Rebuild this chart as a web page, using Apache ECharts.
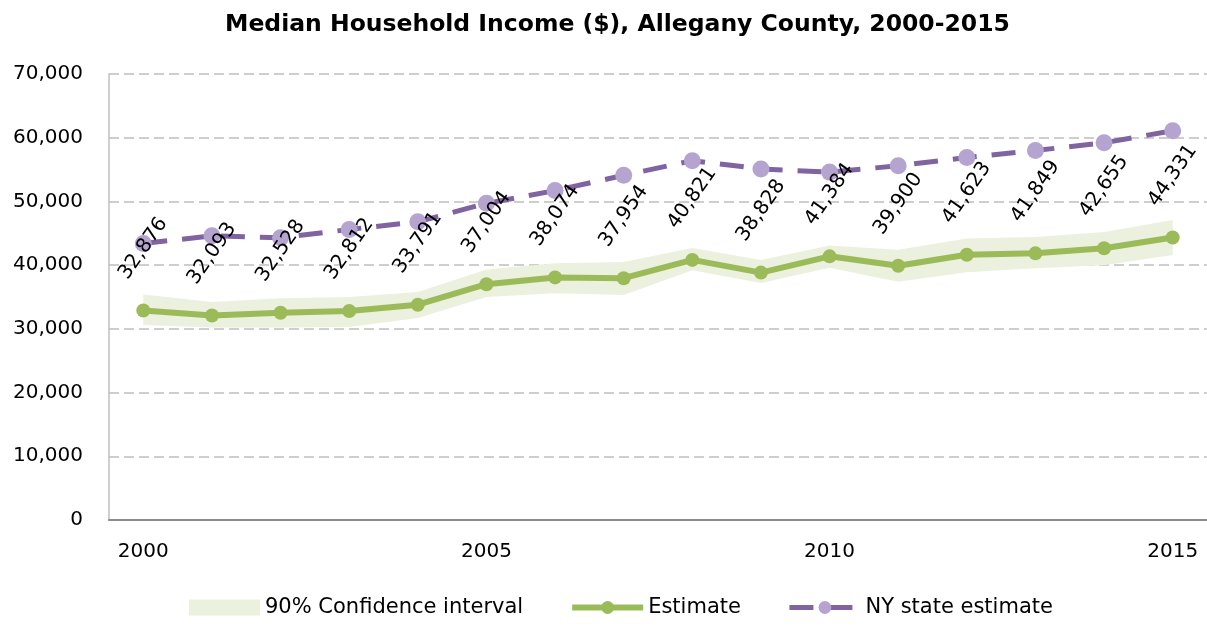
<!DOCTYPE html>
<html>
<head>
<meta charset="utf-8">
<script src="https://cdn.jsdelivr.net/npm/echarts@6/dist/echarts.min.js"></script>
<style>
  html, body { margin: 0; padding: 0; background: #fff; }
  #chart { width: 1207px; height: 627px; }
</style>
</head>
<body>
<div id="chart"></div>
<script>
var years = ['2000', '2001', '2002', '2003', '2004', '2005', '2006', '2007',
             '2008', '2009', '2010', '2011', '2012', '2013', '2014', '2015'];
// Allegany County estimate
var estimate = [32876, 32093, 32528, 32812, 33791, 37004, 38074, 37954,
                40821, 38828, 41384, 39900, 41623, 41849, 42655, 44331];
var ciLower = [30600, 30200, 30200, 30300, 31700, 35000, 35600, 35300,
               39200, 37200, 39600, 37400, 38900, 39500, 40000, 41600];
var ciUpper = [35400, 34200, 34800, 35000, 35800, 39300, 40300, 40500,
               42700, 40800, 43100, 42400, 44200, 44400, 45200, 47100];
// NY state estimate
var nyEstimate = [43400, 44600, 44300, 45600, 46800, 49700, 51700, 54100,
                  56400, 55100, 54600, 55600, 56900, 58000, 59200, 61100];

var ciSpan = ciUpper.map(function (v, i) { return v - ciLower[i]; });

var font = 'DejaVu Sans';
// labels sit ~62px straight above each point; offset is applied in the rotated frame
var labelAngle = 55;
var labelLift = 62;
var rad = labelAngle * Math.PI / 180;

var chart = echarts.init(document.getElementById('chart'));

var option = {
    animation: false,
    textStyle: { fontFamily: font },
    title: {
        text: 'Median Household Income ($), Allegany County, 2000-2015',
        left: 220,
        top: 8,
        textStyle: { fontFamily: font, fontSize: 23.5, fontWeight: 'bold', color: '#000' }
    },
    legend: {
        bottom: 4,
        left: 184,
        itemWidth: 71,
        itemHeight: 16,
        itemGap: 46,
        textStyle: { fontFamily: font, fontSize: 21, color: '#000' },
        data: [
            { name: '90% Confidence interval', icon: 'rect' },
            { name: 'Estimate', lineStyle: { width: 6 } },
            { name: 'NY state estimate', lineStyle: { width: 5 } }
        ]
    },
    grid: { left: 109, right: -4, top: 74, bottom: 107 },
    xAxis: {
        type: 'category',
        data: years,
        boundaryGap: true,
        axisLine: { lineStyle: { color: '#8c8c8c', width: 2 } },
        axisTick: { show: false },
        axisLabel: { interval: 4, fontSize: 20, color: '#000', margin: 22 }
    },
    yAxis: {
        type: 'value',
        min: 0,
        max: 70000,
        interval: 10000,
        axisLine: { show: true, lineStyle: { color: '#bfbfbf', width: 1.5 } },
        axisTick: { show: false },
        axisLabel: {
            fontSize: 20, color: '#000', margin: 26,
            formatter: function (v) { return v.toLocaleString('en-US'); }
        },
        splitLine: { lineStyle: { color: '#bfbfbf', type: [10, 5], width: 1.5 } }
    },
    series: [
        {
            name: 'ciBase',
            type: 'line',
            stack: 'ci',
            data: ciLower,
            symbol: 'none',
            lineStyle: { opacity: 0 },
            silent: true
        },
        {
            name: '90% Confidence interval',
            type: 'line',
            stack: 'ci',
            data: ciSpan,
            symbol: 'none',
            lineStyle: { opacity: 0 },
            itemStyle: { color: '#ebf1de' },
            areaStyle: { color: '#ebf1de', opacity: 1 },
            silent: true
        },
        {
            name: 'NY state estimate',
            type: 'line',
            data: nyEstimate,
            symbol: 'circle',
            symbolSize: 17,
            lineStyle: { color: '#8064a2', width: 5, type: [24, 15] },
            itemStyle: { color: '#b4a4cf', borderWidth: 0 },
            z: 3
        },
        {
            name: 'Estimate',
            type: 'line',
            data: estimate,
            symbol: 'circle',
            symbolSize: 14,
            lineStyle: { color: '#9bbb59', width: 6 },
            itemStyle: { color: '#9bbb59' },
            label: {
                show: true,
                position: 'inside',
                offset: [labelLift * Math.sin(rad), -labelLift * Math.cos(rad)],
                rotate: labelAngle,
                align: 'center',
                verticalAlign: 'middle',
                fontSize: 20,
                color: '#000',
                fontFamily: font,
                formatter: function (p) { return p.value.toLocaleString('en-US'); }
            },
            z: 4
        }
    ]
};

chart.setOption(option);
</script>
</body>
</html>
